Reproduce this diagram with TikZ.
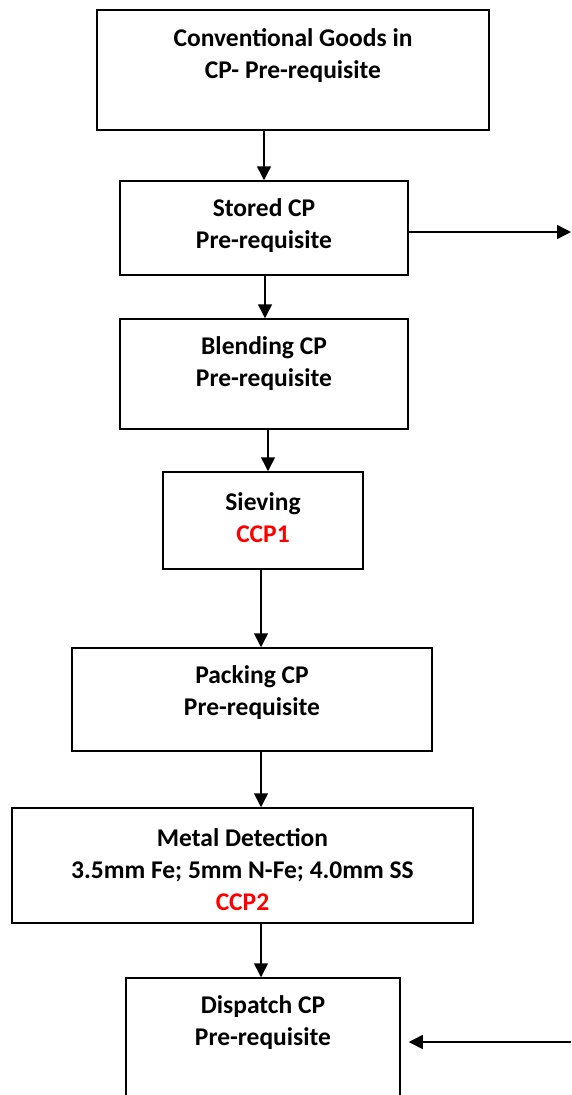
\documentclass[tikz,border=0pt]{standalone}
\usepackage{fontspec}
\setmainfont{Carlito}
\usetikzlibrary{positioning,arrows.meta}

\tikzset{
    stepbox/.style={draw, line width=1.5pt, inner sep=0pt},
    steptext/.style={align=center, font=\fontsize{25.5}{32}\selectfont\bfseries},
    flow/.style={line width=1.5pt, -{Triangle[length=14pt,width=14pt]}},
}

\begin{document}
\begin{tikzpicture}[x=1pt, y=-1pt]
    \useasboundingbox (0,0) rectangle (571,1095);

    % boxes
    \node[stepbox, minimum width=392pt, minimum height=120pt] (goods) at (293,70) {};
    \node[stepbox, minimum width=288pt, minimum height=94pt] (stored) at (264,228) {};
    \node[stepbox, minimum width=288pt, minimum height=110pt] (blend) at (264,374) {};
    \node[stepbox, minimum width=200pt, minimum height=97pt] (sieve) at (263,520.5) {};
    \node[stepbox, minimum width=360pt, minimum height=103pt] (pack) at (252,699.5) {};
    \node[stepbox, minimum width=461pt, minimum height=115pt] (metal) at (242.5,865.5) {};
    \node[stepbox, minimum width=274pt, minimum height=132pt] (dispatch) at (263,1044) {};

    % texts
    \node[steptext] (goodstxt) at (293,56) {Conventional Goods in\\CP- Pre-requisite};
    \node[steptext] (storedtxt) at (264,226) {Stored CP\\Pre-requisite};
    \node[steptext] (blendtxt) at (264,364) {Blending CP\\Pre-requisite};
    \node[steptext] (sievetxt) at (263,517.5) {Sieving\\\textcolor{red}{CCP1}};
    \node[steptext] (packtxt) at (252,692.5) {Packing CP\\Pre-requisite};
    \node[steptext] (metaltxt) at (242.5,869.5) {Metal Detection\\3.5mm Fe; 5mm N-Fe; 4.0mm SS\\\textcolor{red}{CCP2}};
    \node[steptext] (dispatchtxt) at (263,1022.5) {Dispatch CP\\Pre-requisite};

    % loose ends on the right
    \coordinate (outright) at (571,232);
    \coordinate (inright) at (571,1042);

    % connectors
    \draw[flow] (goods.south -| 264,0) -- (stored.north -| 264,0);
    \draw[flow] (stored.south -| 265,0) -- (blend.north -| 265,0);
    \draw[flow] (blend.south -| 268,0) -- (sieve.north -| 268,0);
    \draw[flow] (sieve.south -| 261,0) -- (pack.north -| 261,0);
    \draw[flow] (pack.south -| 261,0) -- (metal.north -| 261,0);
    \draw[flow] (metal.south -| 261,0) -- (dispatch.north -| 261,0);
    \draw[flow] (stored.east |- outright) -- (outright);
    \draw[flow, shorten >=8pt] (inright) -- (dispatch.east |- inright);
\end{tikzpicture}
\end{document}
